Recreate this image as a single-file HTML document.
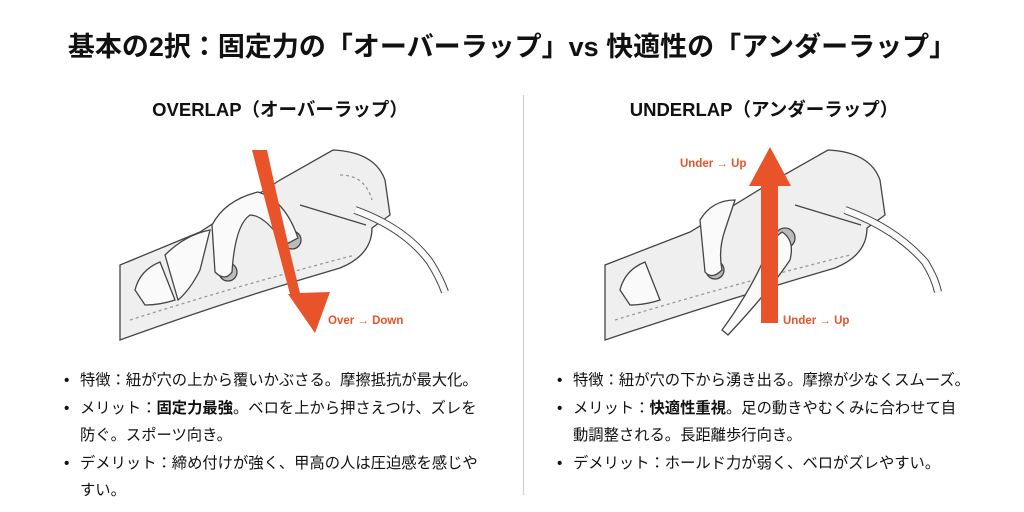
<!DOCTYPE html>
<html><head><meta charset="utf-8"><style>
body{margin:0;width:1024px;height:512px;background:#fff;font-family:"Liberation Sans","Noto Sans CJK JP",sans-serif;color:#111;position:relative;overflow:hidden}
.t{position:absolute;left:0;width:1024px;top:25px;text-align:center;font-size:27px;font-weight:bold}
.h{position:absolute;top:96px;font-size:18.5px;font-weight:bold;text-align:center;width:400px}
.div{position:absolute;left:523px;top:95px;width:1px;height:400px;background:#ccc}
ul{position:absolute;margin:0;padding:0;list-style:none;font-size:15.3px;line-height:27px;width:420px}
li{position:relative;padding-left:14px;margin-bottom:1px}
li:before{content:"•";position:absolute;left:-2px}
svg{position:absolute;left:0;top:0}
</style></head><body>
<div class="t">基本の2択：固定力の「オーバーラップ」vs 快適性の「アンダーラップ」</div>
<div class="h" style="left:80px">OVERLAP（オーバーラップ）</div>
<div class="h" style="left:564px">UNDERLAP（アンダーラップ）</div>
<div class="div"></div>
<svg width="1024" height="512" viewBox="0 0 1024 512">
<g stroke="#444" stroke-width="1.3" fill="#efefef">
 <path d="M120,265 L200,232 L280,180 L333,150 Q375,152 385,180 L390,215 L372,228 Q372,255 340,268 Q230,300 120,340 Z"/>
 <path d="M300,205 L366,225" fill="none"/>
 <path d="M130,320 Q240,285 355,255" fill="none" stroke-dasharray="3,3" stroke="#999"/>
 <path d="M340,175 Q365,175 372,200" fill="none" stroke-dasharray="3,3" stroke="#999"/>
 <path d="M355,210 Q405,228 430,262 Q440,278 445,292" fill="none" stroke-width="8" stroke="#444"/>
 <path d="M355,210 Q405,228 430,262 Q440,278 445,292" fill="none" stroke-width="6" stroke="#fafafa"/>
 <path d="M135,290 Q140,270 160,262 L175,300 Q160,305 145,305 Z" fill="#fafafa"/>
 <path d="M165,255 Q185,235 210,230 L200,270 Q190,290 178,300 Z" fill="#fafafa"/>
 <circle cx="292" cy="240" r="9" fill="#bbb"/><circle cx="228" cy="272" r="9" fill="#bbb"/>
 <path d="M212,225 Q225,200 258,192 Q285,200 298,238 L285,245 Q265,215 250,215 Q235,225 232,272 Q225,282 215,272 Z" fill="#fafafa"/>
 <path d="M605,265 L690,232 L775,180 L828,150 Q870,152 880,180 L885,215 L867,228 Q867,255 835,268 Q725,300 605,340 Z"/>
 <path d="M795,205 L861,225" fill="none"/>
 <path d="M615,320 Q730,285 850,255" fill="none" stroke-dasharray="3,3" stroke="#999"/>
 <path d="M845,210 Q895,228 925,262 Q935,278 938,292" fill="none" stroke-width="8" stroke="#444"/>
 <path d="M845,210 Q895,228 925,262 Q935,278 938,292" fill="none" stroke-width="6" stroke="#fafafa"/>
 <path d="M620,290 Q625,270 645,262 L660,300 Q645,305 630,305 Z" fill="#fafafa"/>
 <circle cx="785" cy="238" r="10" fill="#bbb"/><circle cx="715" cy="270" r="9" fill="#bbb"/>
 <path d="M700,220 Q712,200 735,200 L725,230 Q718,250 722,270 Q712,280 705,272 Z" fill="#fafafa"/>
 <path d="M782,232 Q795,240 790,260 Q770,290 728,335 L722,330 Q755,285 772,240 Z" fill="#fafafa"/>
</g>
<g fill="#e8532a">
 <path d="M252,150 L267,150 Q282,220 300,293 L330,292 L315,333 L288,294 L290,294 Q270,220 252,150 Z"/>
 <path d="M770,147 L791,186 L778,186 L778,323 L761,323 L761,186 L749,186 Z"/>
</g>
<g fill="#e8532a" font-size="11.5" font-weight="bold" font-family="Liberation Sans,sans-serif">
 <text x="328" y="324">Over → Down</text>
 <text x="680" y="167">Under → Up</text>
 <text x="783" y="324">Under → Up</text>
</g>
</svg>
<ul style="left:66px;top:367px">
<li>特徴：紐が穴の上から覆いかぶさる。摩擦抵抗が最大化。</li>
<li>メリット：<b>固定力最強</b>。ベロを上から押さえつけ、ズレを防ぐ。スポーツ向き。</li>
<li>デメリット：締め付けが強く、甲高の人は圧迫感を感じやすい。</li>
</ul>
<ul style="left:559px;top:367px;width:450px">
<li>特徴：紐が穴の下から湧き出る。摩擦が少なくスムーズ。</li>
<li>メリット：<b>快適性重視</b>。足の動きやむくみに合わせて自<br>動調整される。長距離歩行向き。</li>
<li>デメリット：ホールド力が弱く、ベロがズレやすい。</li>
</ul>
</body></html>
